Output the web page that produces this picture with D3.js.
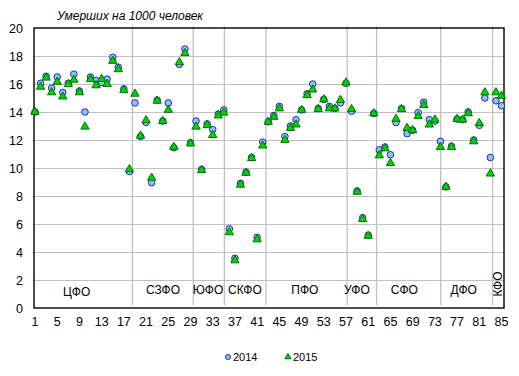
<!DOCTYPE html>
<html>
<head>
<meta charset="utf-8">
<script src="https://cdn.jsdelivr.net/npm/d3@7"></script>
<style>
	body { margin: 0; background: #fff; }
	svg text { font-family: "Liberation Sans", Arial, sans-serif; fill: #000; }
</style>
</head>
<body>
<div id="graphic"></div>
<script>
// region number (1..85) on x, deaths per 1000 people on y
const regions = d3.range(1, 86);

const deaths2014 = [
	14.0, 16.05, 16.55, 15.7, 16.5, 15.4, 16.05, 16.7, 15.5, 14.0, 16.5, 16.25, 16.1, 16.35, 17.9, 17.2, 15.65, 9.75,
	14.65, 12.25, 13.25, 8.95, 14.85, 13.35, 14.65, 11.45, 17.4, 18.5, 11.8,
	13.35, 9.9, 13.15, 12.75, 13.85, 14.15,
	5.65, 3.55, 8.9, 9.7, 10.75, 5.05, 11.85,
	13.3, 13.75, 14.4, 12.25, 13.0, 13.45, 14.15, 15.3, 16.0, 14.25, 14.9, 14.4, 14.25, 14.65,
	16.05, 14.05, 8.35, 6.45, 5.2, 13.9,
	11.3, 11.5, 10.95, 13.25, 14.25, 12.45, 12.7, 13.95, 14.7, 13.45, 13.35, 11.9,
	8.65, 11.55, 13.5, 13.45, 14.0, 12.0, 13.05, 15.0, 10.75,
	14.8, 14.45
];

const deaths2015 = [
	14.0, 15.8, 16.45, 15.4, 16.15, 15.1, 15.98, 16.3, 15.4, 12.95, 16.35, 15.9, 16.35, 16.0, 17.65, 17.05, 15.55, 9.9,
	15.3, 12.3, 13.4, 9.3, 14.8, 13.35, 14.15, 11.5, 17.55, 18.2, 11.75,
	12.95, 9.85, 13.05, 12.35, 13.75, 13.95,
	5.4, 3.4, 8.8, 9.65, 10.7, 4.9, 11.6,
	13.3, 13.65, 14.25, 12.0, 12.85, 13.1, 14.15, 15.2, 15.6, 14.2, 14.9, 14.25, 14.25, 14.85,
	16.1, 14.2, 8.3, 6.35, 5.15, 13.9,
	10.9, 11.4, 10.35, 13.5, 14.2, 12.85, 12.7, 13.7, 14.5, 13.1, 13.45, 11.5,
	8.65, 11.5, 13.5, 13.45, 13.9, 11.9, 13.2, 15.4, 9.6,
	15.4, 15.15
];

// federal districts: separator lines and label centres, in region-number units
const districtNames = ['ЦФО', 'СЗФО', 'ЮФО', 'СКФО', 'ПФО', 'УФО', 'СФО', 'ДФО', 'КФО'];
const districtMid = [8.5, 24.05, 32.15, 38.8, 49.6, 58.97, 67.5, 78.2, 84.4];
const districtBreaks = [18.55, 29.5, 35.1, 42.6, 57.2, 62.5, 74.05, 83.4];

const xTicks = d3.range(1, 86, 4);
const yTicks = d3.range(0, 21, 2);

const seriesNames = ['2014', '2015'];

function drawGraphic() {
	const width = 519, height = 376;
	const plot = { left: 34, right: 504, top: 28, bottom: 308 };

	const svg = d3.select('#graphic')
		.append('svg')
		.attr('width', width)
		.attr('height', height);

	const x = d3.scaleLinear()
		.domain([1, 85])
		.range([35, 501.5]);

	const y = d3.scaleLinear()
		.domain([0, 20])
		.range([plot.bottom, plot.top]);

	// horizontal grid
	svg.append('g')
		.selectAll('line')
		.data(yTicks.filter(d => d > 0 && d < 20))
		.join('line')
		.attr('x1', plot.left)
		.attr('x2', plot.right)
		.attr('y1', d => y(d) + 0.5)
		.attr('y2', d => y(d) + 0.5)
		.attr('stroke', '#c0c0c0')
		.attr('stroke-width', 1);

	// district separators
	svg.append('g')
		.selectAll('line')
		.data(districtBreaks)
		.join('line')
		.attr('x1', d => x(d))
		.attr('x2', d => x(d))
		.attr('y1', y(20.15))
		.attr('y2', y(0.2))
		.attr('stroke', '#c0c0c0')
		.attr('stroke-width', 1.3);

	// frame
	svg.append('rect')
		.attr('x', plot.left)
		.attr('y', plot.top)
		.attr('width', plot.right - plot.left)
		.attr('height', plot.bottom - plot.top)
		.attr('fill', 'none')
		.attr('stroke', '#000')
		.attr('stroke-width', 1.4);

	// y axis labels
	svg.append('g')
		.selectAll('text')
		.data(yTicks)
		.join('text')
		.attr('x', 23)
		.attr('y', d => y(d))
		.attr('dy', '0.36em')
		.attr('text-anchor', 'end')
		.style('font-size', '12.5px')
		.text(d => d);

	// x axis labels
	svg.append('g')
		.selectAll('text')
		.data(xTicks)
		.join('text')
		.attr('x', d => x(d))
		.attr('y', 326)
		.attr('text-anchor', 'middle')
		.style('font-size', '12.5px')
		.text(d => d);

	// district labels
	svg.append('g')
		.selectAll('text')
		.data(districtNames)
		.join('text')
		.attr('text-anchor', 'middle')
		.style('font-size', '12px')
		.attr('transform', (d, i) => d === 'КФО'
			? `translate(${x(districtMid[i]) + 4}, 284) rotate(-90)`
			: `translate(${x(districtMid[i])}, ${i === 0 ? 296 : 294})`)
		.text(d => d);

	// title
	svg.append('text')
		.attr('x', 57)
		.attr('y', 20)
		.style('font-size', '12px')
		.style('font-style', 'italic')
		.text('Умерших на 1000 человек');

	const triangle = d3.symbol().type(d3.symbolTriangle).size(30);

	// 2014 circles
	svg.append('g')
		.selectAll('circle')
		.data(regions)
		.join('circle')
		.attr('cx', d => x(d))
		.attr('cy', (d, i) => y(deaths2014[i]))
		.attr('r', 3.3)
		.attr('fill', '#8fc0ff')
		.attr('stroke', '#1f2fa8')
		.attr('stroke-width', 1);

	// 2015 triangles
	svg.append('g')
		.selectAll('path')
		.data(regions)
		.join('path')
		.attr('d', triangle)
		.attr('transform', (d, i) => `translate(${x(d)}, ${y(deaths2015[i])})`)
		.attr('fill', '#00d400')
		.attr('stroke', '#007000')
		.attr('stroke-width', 1);

	// legend
	const legend = svg.append('g');
	legend.append('circle')
		.attr('cx', 228)
		.attr('cy', 357)
		.attr('r', 2.5)
		.attr('fill', '#8fc0ff')
		.attr('stroke', '#1f2fa8');
	legend.append('text')
		.attr('x', 233)
		.attr('y', 361)
		.style('font-size', '11px')
		.text(seriesNames[0]);
	legend.append('path')
		.attr('d', d3.symbol().type(d3.symbolTriangle).size(16))
		.attr('transform', 'translate(288, 357)')
		.attr('fill', '#00d400')
		.attr('stroke', '#007000');
	legend.append('text')
		.attr('x', 293)
		.attr('y', 361)
		.style('font-size', '11px')
		.text(seriesNames[1]);
}

drawGraphic();
</script>
</body>
</html>
